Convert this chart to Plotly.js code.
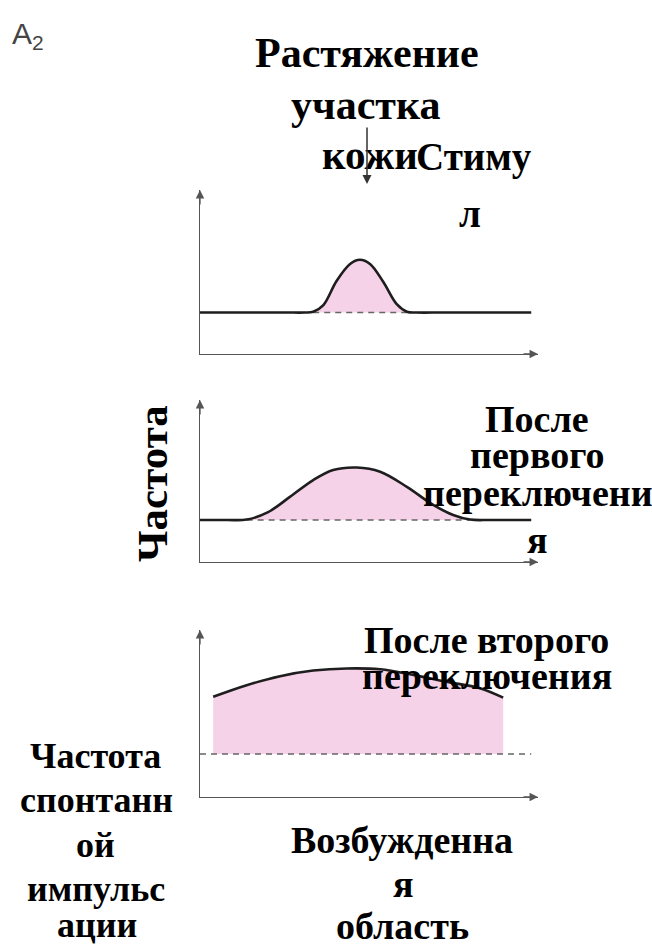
<!DOCTYPE html>
<html>
<head>
<meta charset="utf-8">
<script src="https://cdn.plot.ly/plotly-3.0.1.min.js"></script>
<style>html,body{margin:0;padding:0;background:#fff;}#chart{width:652px;height:947px;}</style>
</head>
<body>
<div id="chart"></div>
<script>
// ---- data ----
const panel1X = [0, 25, 31, 33.5, 36.5, 40.4, 44.4, 47.3, 50.3, 54.2, 58.2, 61.2, 64, 72, 98];
const panel1Y = [1, 1, 1, 1.02, 1.18, 1.76, 2.17, 2.27, 2.17, 1.74, 1.2, 1.02, 1, 1, 1];
const panel1Base = [33.5, 61.2];

const panel2X = [0, 8, 13.8, 20, 26.6, 33.5, 39.4, 46.4, 53.3, 61.2, 69.0, 74.9, 79.9, 86, 98];
const panel2Y = [1, 1, 1.01, 1.18, 1.55, 1.95, 2.19, 2.25, 2.15, 1.79, 1.36, 1.12, 1.01, 1, 1];
const panel2Base = [13.8, 79.9];

const panel3X = [3.9, 13.8, 23.7, 33.5, 43.4, 53.3, 63.1, 73.0, 82.8, 89.7];
const panel3Y = [2.33, 2.60, 2.81, 2.94, 2.99, 2.97, 2.84, 2.68, 2.53, 2.31];
const panel3Base = [0, 98];
const spontaneous = 1;

const figLabel = 'A<sub>2</sub>';
const topLabel = ['Растяжение', 'участка', 'кожи'];
const stimLabel = ['Стиму', 'л'];
const yLabel = 'Частота';
const panel2Label = ['После', 'первого', 'переключени', 'я'];
const panel3Label = ['После второго', 'переключения'];
const spontLabel = ['Частота', 'спонтанн', 'ой', 'импульс', 'ации'];
const xLabel = ['Возбужденна', 'я', 'область'];

// ---- styling ----
const W = 652, H = 947;
const PINK = '#f6d2e9';
const CURVE = '#1e1e1e';
const AXIS = '#555';
const SERIF = 'Liberation Serif, Times New Roman, serif';
const px = v => v / W;
const py = v => 1 - v / H;

const traces = [];
function panel(xs, ys, base, xa, ya, fillRange, dashRange) {
  const inRange = xs.map((x, i) => i).filter(i => xs[i] >= fillRange[0] && xs[i] <= fillRange[1]);
  const fx = inRange.map(i => xs[i]);
  const fy = inRange.map(i => ys[i]);
  traces.push({x: [fx[0], fx[fx.length - 1]], y: [base, base], xaxis: xa, yaxis: ya,
    mode: 'lines', line: {width: 0, color: 'rgba(0,0,0,0)'}, hoverinfo: 'skip', showlegend: false});
  traces.push({x: fx, y: fy, xaxis: xa, yaxis: ya, mode: 'lines', fill: 'tonexty', fillcolor: PINK,
    line: {width: 0, shape: 'spline', smoothing: 1, color: 'rgba(0,0,0,0)'}, hoverinfo: 'skip', showlegend: false});
  traces.push({x: dashRange, y: [base, base], xaxis: xa, yaxis: ya, mode: 'lines',
    line: {width: 1.5, color: '#666', dash: '6px,5px'}, hoverinfo: 'skip', showlegend: false});
  traces.push({x: xs, y: ys, xaxis: xa, yaxis: ya, mode: 'lines',
    line: {width: 2.6, color: CURVE, shape: 'spline', smoothing: 1}, hoverinfo: 'skip', showlegend: false});
}
panel(panel1X, panel1Y, spontaneous, 'x', 'y', panel1Base, panel1Base);
panel(panel2X, panel2Y, spontaneous, 'x2', 'y2', panel2Base, panel2Base);
panel(panel3X, panel3Y, spontaneous, 'x3', 'y3', [panel3X[0], panel3X[panel3X.length - 1]], panel3Base);

function xAx(anchor) {
  return {domain: [px(200), px(538)], range: [0, 100], anchor: anchor, showline: true, linecolor: AXIS,
    linewidth: 1.3, showgrid: false, zeroline: false, showticklabels: false, ticks: '', fixedrange: true};
}
function yAx(anchor, bottom, top, unit) {
  return {domain: [py(bottom), py(top)], range: [0, (bottom - top) / unit], anchor: anchor, showline: true,
    linecolor: AXIS, linewidth: 1.3, showgrid: false, zeroline: false, showticklabels: false, ticks: '', fixedrange: true};
}

const ann = [];
function arrowHeads(xr, yr) {
  ann.push({xref: xr + ' domain', yref: yr + ' domain', x: 0, y: 1, ax: 0, ay: 16, text: '', showarrow: true,
    arrowhead: 2, arrowsize: 1.3, arrowwidth: 1.3, arrowcolor: AXIS});
  ann.push({xref: xr + ' domain', yref: yr + ' domain', x: 1, y: 0, ax: -16, ay: 0, text: '', showarrow: true,
    arrowhead: 2, arrowsize: 1.3, arrowwidth: 1.3, arrowcolor: AXIS});
}
arrowHeads('x', 'y');
arrowHeads('x2', 'y2');
arrowHeads('x3', 'y3');

function label(text, x, y, size, extra) {
  ann.push(Object.assign({text: text, x: px(x), y: py(y), xref: 'paper', yref: 'paper', showarrow: false,
    xanchor: 'center', yanchor: 'middle', font: {family: SERIF, size: size, color: '#000', weight: 'bold'}}, extra || {}));
}
const FS = 38;
label(topLabel[0], 367, 53, 42);
label(topLabel[1], 366, 105, 42);
label(topLabel[2], 370, 155, 41);
label(stimLabel[0], 474, 157, 39);
label(stimLabel[1], 470, 213, 39);
label(yLabel, 152, 484, 43, {textangle: -90});
label(panel2Label[0], 537, 419, FS);
label(panel2Label[1], 537, 455, FS);
label(panel2Label[2], 538, 493, FS);
label(panel2Label[3], 537, 540, FS);
label(panel3Label[0], 486, 640, FS);
label(panel3Label[1], 487, 676, FS);
label(spontLabel[0], 95, 756, 36);
label(spontLabel[1], 96, 800, 36);
label(spontLabel[2], 95, 845, 36);
label(spontLabel[3], 96, 889, 36);
label(spontLabel[4], 97, 947, 36, {yanchor: 'bottom'});
label(xLabel[0], 402, 840, FS);
label(xLabel[1], 403, 884, FS);
label(xLabel[2], 402, 926, FS);
ann.push({text: figLabel, x: px(28), y: py(36), xref: 'paper', yref: 'paper', showarrow: false,
  xanchor: 'center', yanchor: 'middle', font: {family: 'Liberation Sans, Arial, sans-serif', size: 30, color: '#444'}});
// stimulus arrow
ann.push({x: px(367), y: py(184), xref: 'paper', yref: 'paper', ax: 0, ay: -58, text: '', showarrow: true,
  arrowhead: 2, arrowsize: 1.2, arrowwidth: 1.5, arrowcolor: '#333'});

const layout = {
  width: W, height: H, margin: {l: 0, r: 0, t: 0, b: 0},
  paper_bgcolor: '#fff', plot_bgcolor: 'rgba(0,0,0,0)', showlegend: false,
  xaxis: xAx('y'), yaxis: yAx('x', 354, 190, 41.5),
  xaxis2: xAx('y2'), yaxis2: yAx('x2', 562, 400, 42),
  xaxis3: xAx('y3'), yaxis3: yAx('x3', 797, 630, 43),
  annotations: ann
};
Plotly.newPlot('chart', traces, layout, {staticPlot: true, displayModeBar: false});
</script>
</body>
</html>
